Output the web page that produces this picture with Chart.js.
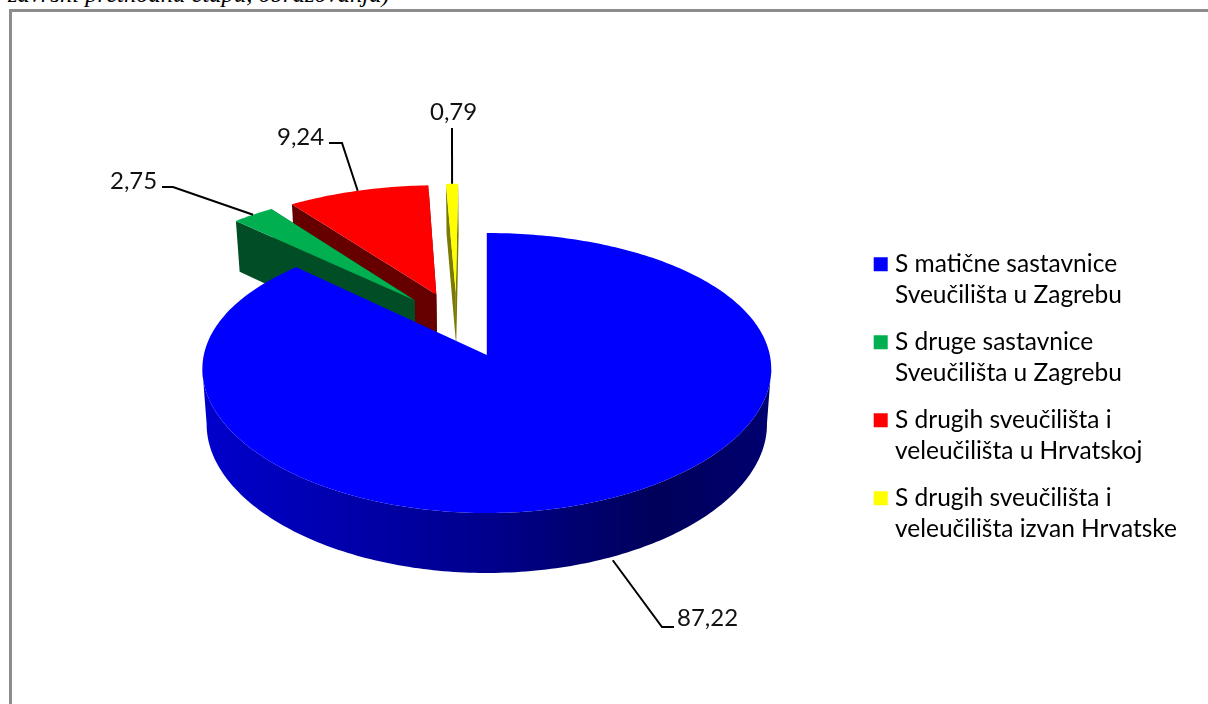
<!DOCTYPE html>
<html lang="hr">
<head>
<meta charset="utf-8">
<title>Struktura</title>
<script src="https://cdn.jsdelivr.net/npm/chart.js@4"></script>
<style>
    html, body { margin: 0; padding: 0; background: #fff; overflow: hidden; }
    #caption { position: absolute; left: 8px; top: -20px; font: italic 24.6px "Liberation Serif", serif; color: #000; white-space: nowrap; }
    #frame { position: absolute; left: 9px; top: 9px; width: 1199px; height: 695px; border-left: 3px solid #8c8c8c; border-top: 3px solid #8c8c8c; box-sizing: border-box; }
    #wrap { position: absolute; left: 0; top: 0; width: 1208px; height: 704px; }
</style>
</head>
<body>
<div id="caption">završni prethodnu etapu, obrazovanja)</div>
<div id="frame"></div>
<div id="wrap"><canvas id="pita"></canvas></div>
<script>
const kategorije = [
    ['S matične sastavnice', 'Sveučilišta u Zagrebu'],
    ['S druge sastavnice', 'Sveučilišta u Zagrebu'],
    ['S drugih sveučilišta i', 'veleučilišta u Hrvatskoj'],
    ['S drugih sveučilišta i', 'veleučilišta izvan Hrvatske']
];
const vrijednosti = [87.22, 2.75, 9.24, 0.79];
const oznake = ['87,22', '2,75', '9,24', '0,79'];
const boje = ['#0000ff', '#00b050', '#ff0000', '#ffff00'];
const bojeStijene = ['#00007a', '#004d26', '#660000', '#7a7a00'];

// projection of the pie plane on the screen (fitted to the picture)
const P = { x: 486.8, y: 355, a: 283, k: 137.7, p: 0.1286, q: 0.1, depth: 55, tilt: 5 };
// small sideways correction per slice, px
const nudge = [0, -1, -1.5, -3];

function project(u, v) {
    return { x: P.x + P.a * u / (1 - P.q * v), y: P.y + P.k * v / (1 - P.p * v) };
}

// leader line layout per slice: start correction, elbow, line end, text position
const vodilice = [
    { start: [6, 2], elbow: [662, 627], end: [674, 627], text: [677, 618] },
    { start: [0, 0], elbow: [173, 187], end: [162, 187], text: [110, 181] },
    { start: [0, 0], elbow: [342, 143], end: [329, 143], text: [277, 137] },
    { start: [0, 0], elbow: [452, 128], end: [452, 128], text: [430, 112] }
];

const pita3d = {
    id: 'pita3d',
    beforeDatasetDraw(chart) {
        const ctx = chart.ctx;
        const arcs = chart.getDatasetMeta(0).data;
        const mid = el => (el.startAngle + el.endAngle) / 2;
        const pomak = el => el.options.offset / el.outerRadius;
        // the biggest slice is the one the fitted projection is anchored on
        const u0 = Math.cos(mid(arcs[0])) * pomak(arcs[0]);
        const v0 = Math.sin(mid(arcs[0])) * pomak(arcs[0]);

        const tocka = (el, r, a) => {
            const t = project(
                Math.cos(mid(el)) * pomak(el) + r * Math.cos(a) - u0,
                Math.sin(mid(el)) * pomak(el) + r * Math.sin(a) - v0
            );
            t.x += nudge[arcs.indexOf(el)];
            return t;
        };
        const dolje = (t) => {
            const v = (t.y - P.y) / 160;
            return { x: P.x + (t.x - P.x) * 0.985, y: t.y + P.depth + P.tilt * v };
        };

        ctx.save();
        [3, 2, 1, 0].forEach(i => {
            const el = arcs[i];
            const luk = el.endAngle - el.startAngle;
            const n = Math.max(4, Math.ceil(luk * 60));
            const rub = [];
            let prednji = [];
            for (let j = 0; j <= n; j++) {
                const kut = el.startAngle + luk * j / n;
                const t = tocka(el, 1, kut);
                rub.push(t);
                if (Math.sin(kut) >= -0.1) prednji.push(t);
            }
            const vrh = tocka(el, 0, 0);

            // only the part of the rim between the two side extremes is seen
            if (prednji.length) {
                const xs = prednji.map(t => t.x);
                prednji = prednji.slice(xs.indexOf(Math.max(...xs)), xs.indexOf(Math.min(...xs)) + 1);
            }

            let stijena = bojeStijene[i];
            if (i === 0) {
                const g = ctx.createLinearGradient(P.x - P.a, 0, P.x + P.a, 0);
                g.addColorStop(0, '#0000cc');
                g.addColorStop(0.5, '#00008c');
                g.addColorStop(0.8, '#00005a');
                g.addColorStop(1, '#000070');
                stijena = g;
            }

            // walls: front part of the rim, then the cut faces of the small slices
            ctx.fillStyle = stijena;
            if (prednji.length) {
                ctx.beginPath();
                prednji.forEach((t, j) => j ? ctx.lineTo(t.x, t.y) : ctx.moveTo(t.x, t.y));
                prednji.slice().reverse().forEach(t => {
                    const d = dolje(t);
                    ctx.lineTo(d.x, d.y);
                });
                ctx.closePath();
                ctx.fill();
            }
            if (luk < Math.PI) {
                [rub[0], rub[n]].forEach(t => {
                    const d = dolje(t), dv = dolje(vrh);
                    ctx.beginPath();
                    ctx.moveTo(vrh.x, vrh.y);
                    ctx.lineTo(t.x, t.y);
                    ctx.lineTo(d.x, d.y);
                    ctx.lineTo(dv.x, dv.y);
                    ctx.closePath();
                    ctx.fill();
                });
            }

            // top face
            ctx.fillStyle = boje[i];
            ctx.beginPath();
            ctx.moveTo(vrh.x, vrh.y);
            rub.forEach(t => ctx.lineTo(t.x, t.y));
            ctx.closePath();
            ctx.fill();
        });

        // value labels with leader lines
        ctx.strokeStyle = '#000';
        ctx.lineWidth = 2;
        ctx.fillStyle = '#111';
        ctx.font = '24px Lato';
        ctx.textBaseline = 'middle';
        ctx.textAlign = 'left';
        arcs.forEach((el, i) => {
            const v = vodilice[i];
            let s = tocka(el, 1, mid(el));
            if (i === 0) s = dolje(s);
            ctx.beginPath();
            ctx.moveTo(s.x + v.start[0], s.y + v.start[1]);
            ctx.lineTo(v.elbow[0], v.elbow[1]);
            ctx.lineTo(v.end[0], v.end[1]);
            ctx.stroke();
            ctx.fillText(oznake[i], v.text[0], v.text[1]);
        });
        ctx.restore();
        return false;
    }
};

new Chart(document.getElementById('pita'), {
    type: 'pie',
    data: {
        labels: kategorije,
        datasets: [{
            data: vrijednosti,
            backgroundColor: boje,
            radius: 200,
            offset: 50,
            borderWidth: 0
        }]
    },
    options: {
        responsive: true,
        maintainAspectRatio: false,
        animation: false,
        layout: { padding: { right: 21, top: 96 } },
        plugins: {
            tooltip: { enabled: false },
            legend: {
                position: 'right',
                labels: {
                    font: { family: 'Lato', size: 24.5, lineHeight: 1.265 },
                    color: '#111',
                    boxWidth: 4,
                    boxHeight: 4,
                    padding: 16,
                    generateLabels() {
                        return kategorije.map((k, i) => ({
                            text: k,
                            fillStyle: boje[i],
                            strokeStyle: boje[i],
                            lineWidth: 10,
                            index: i
                        }));
                    }
                }
            }
        }
    },
    plugins: [pita3d]
});
</script>
</body>
</html>
